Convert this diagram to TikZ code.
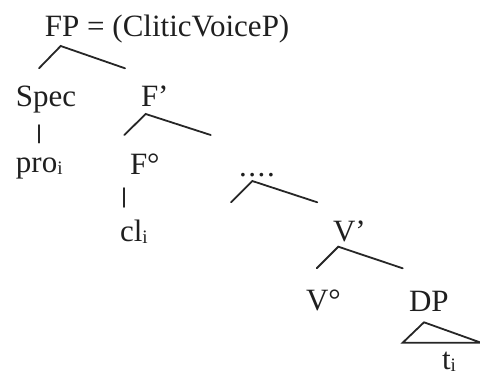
\documentclass[tikz,border=0pt]{standalone}
\usepackage{fontspec}
\setmainfont{Liberation Serif}
\begin{document}
\begin{tikzpicture}[x=1pt,y=-1pt,
  lbl/.style={anchor=base west,inner sep=0pt,outer sep=0pt,text=black!88,
              font=\fontsize{31}{36}\selectfont},
  branch/.style={line width=1.8pt,draw=black!85,line cap=round,line join=miter},
]
\newcommand{\sbi}{\raisebox{-2pt}{\fontsize{19}{19}\selectfont i}}
\useasboundingbox (0,0) rectangle (480,380);

% labels
\node[lbl] (fp)   at (45,37)    {FP = (CliticVoiceP)};
\node[lbl] (spec) at (16,106)   {Spec};
\node[lbl] (fbar) at (141,106)  {F'};
\node[lbl] (pro)  at (16,172)   {pro\sbi};
\node[lbl] (f0)   at (130,174)  {F°};
\node[lbl] (cl)   at (120,241)  {cl\sbi};
\node[lbl] (dots) at (239,176)  {.\hspace{1.6pt}.\hspace{1.6pt}.\hspace{1.6pt}.};
\node[lbl] (vbar) at (333,241)  {V'};
\node[lbl] (v0)   at (306,310)  {V°};
\node[lbl] (dp)   at (409,311)  {DP};
\node[lbl] (t)    at (442,369)  {t\sbi};

% branch points
\coordinate (fp-a) at (60.7,46);   \coordinate (fp-l) at (39,68.3);   \coordinate (fp-r) at (125,68.3);
\coordinate (fb-a) at (145.7,114); \coordinate (fb-l) at (124.3,135); \coordinate (fb-r) at (210.7,135);
\coordinate (dt-a) at (252.3,181); \coordinate (dt-l) at (231,202.3); \coordinate (dt-r) at (317.3,202.3);
\coordinate (vb-a) at (338.3,246.7); \coordinate (vb-l) at (316.7,268.3); \coordinate (vb-r) at (402.7,268.3);
\coordinate (sp-t) at (39,125);    \coordinate (sp-b) at (39,142.7);
\coordinate (f0-t) at (124.3,188); \coordinate (f0-b) at (124.3,207);
\coordinate (tr-a) at (424,322.3); \coordinate (tr-l) at (402.7,342.7); \coordinate (tr-r) at (481,342.7);

% branches
\draw[branch] (fp-l) -- (fp-a) -- (fp-r);
\draw[branch] (fb-l) -- (fb-a) -- (fb-r);
\draw[branch] (dt-l) -- (dt-a) -- (dt-r);
\draw[branch] (vb-l) -- (vb-a) -- (vb-r);
\draw[branch] (sp-t) -- (sp-b);
\draw[branch] (f0-t) -- (f0-b);
\draw[branch] (tr-l) -- (tr-a) -- (tr-r) -- cycle;
\end{tikzpicture}
\end{document}
